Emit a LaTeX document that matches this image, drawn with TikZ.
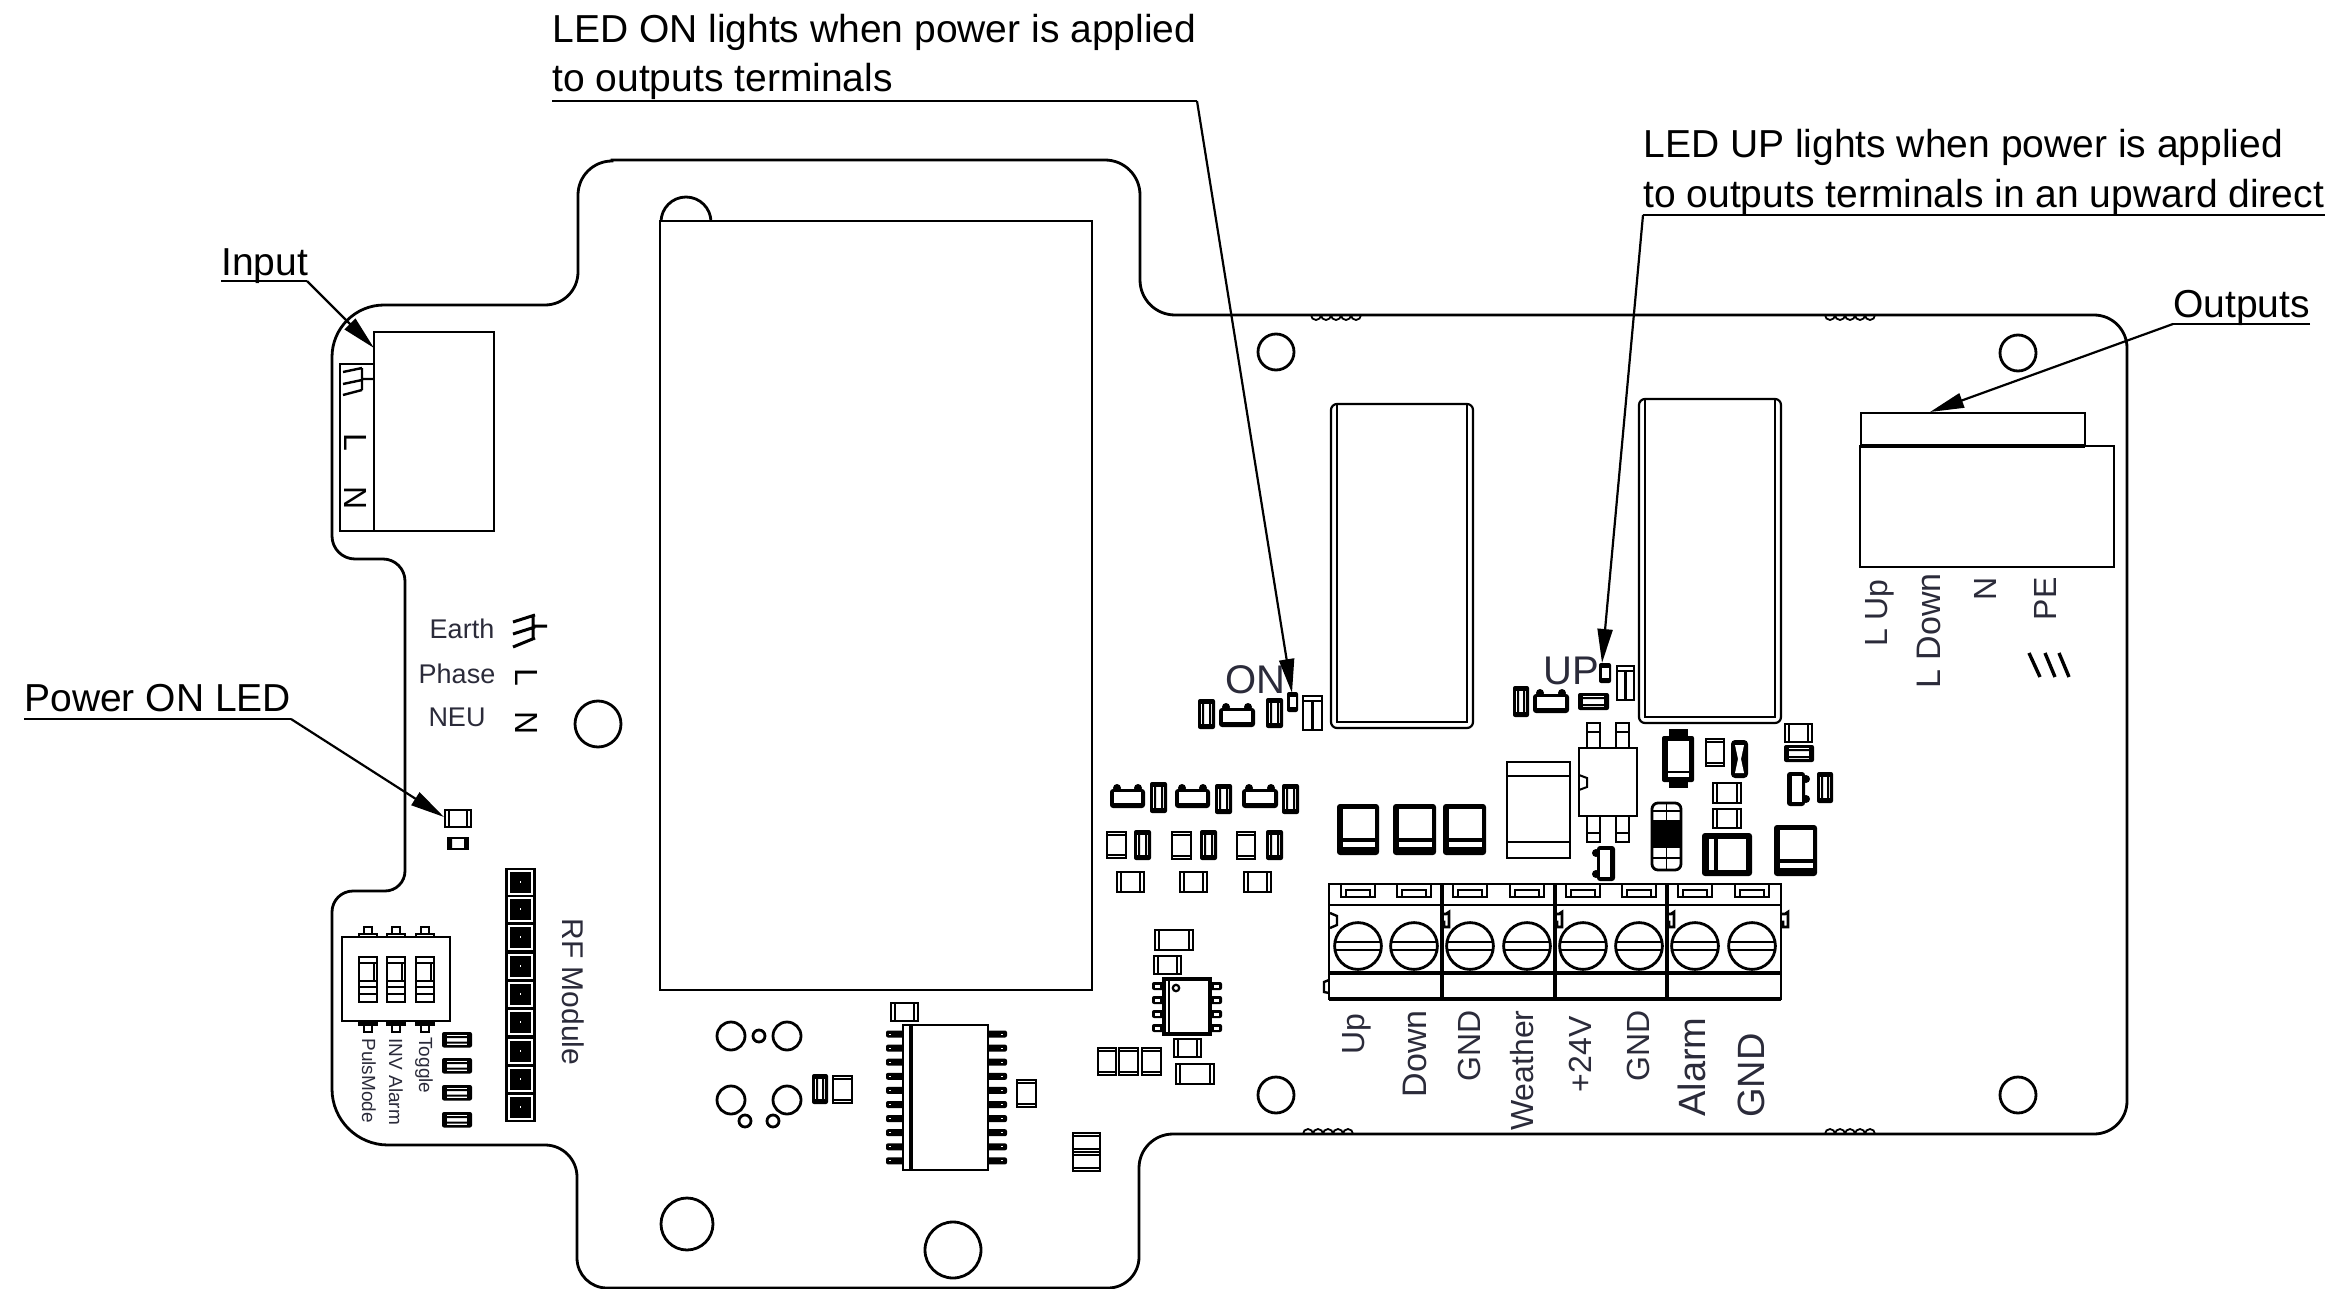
\documentclass[tikz,border=0pt]{standalone}
\usepackage{fontspec}
\setmainfont{Liberation Sans}
\usetikzlibrary{arrows.meta}
\definecolor{lab}{HTML}{2B2B3A}
\tikzset{
 brd/.style={line width=1.4pt,black},
 thin part/.style={line width=1.05pt,black},
 leader/.style={line width=1.1pt,black},
 tip/.style={line width=1.1pt,black,-{Triangle[length=17pt,width=7.5pt]}},
 call/.style={font=\fontsize{19.5}{19.5}\selectfont,anchor=base west,inner sep=0pt,black},
 lab16/.style={font=\fontsize{16}{16}\selectfont,text=lab,inner sep=0pt},
 lab17/.style={font=\fontsize{17}{17}\selectfont,text=lab,inner sep=0pt},
 lab19/.style={font=\fontsize{19}{19}\selectfont,text=lab,inner sep=0pt},
 lab12/.style={font=\fontsize{13.5}{13.5}\selectfont,text=lab,inner sep=0pt},
 lab95/.style={font=\fontsize{9.5}{9.5}\selectfont,text=lab,inner sep=0pt},
 sym/.style={font=\fontsize{16}{16}\selectfont,text=black,inner sep=0pt,rotate=-90},
}
% plain capacitor, vertical: end bands top and bottom
\newcommand{\capV}[4]{\draw[thin part] (#1,#2) rectangle (#3,#4);
 \draw[line width=0.8pt] (#1,{#2+3}) -- (#3,{#2+3}) (#1,{#4-3}) -- (#3,{#4-3});}
% plain capacitor, horizontal: end bands left and right
\newcommand{\capH}[4]{\draw[thin part] (#1,#2) rectangle (#3,#4);
 \draw[line width=0.8pt] ({#1+4},#2) -- ({#1+4},#4) ({#3-4},#2) -- ({#3-4},#4);}
% dark resistor, vertical
\newcommand{\darkV}[4]{\fill[black,rounded corners=1pt] (#1,#2) rectangle (#3,#4);
 \fill[white] ({#1+3},{#2+5}) rectangle ({#3-3},{#4-5});
 \fill[black] ({#1+4},{#2+5}) rectangle ({#1+6},{#4-5}) ({#3-6},{#2+5}) rectangle ({#3-4},{#4-5});}
% dark resistor, horizontal
\newcommand{\darkH}[4]{\fill[black,rounded corners=1pt] (#1,#2) rectangle (#3,#4);
 \fill[white] ({#1+5},{#2+3}) rectangle ({#3-5},{#4-3});
 \fill[black] ({#1+5},{#2+4}) rectangle ({#3-5},{#2+6}) ({#1+5},{#4-6}) rectangle ({#3-5},{#4-4});}
% diode with two bumps on top
\newcommand{\bumpT}[4]{\fill[black,rounded corners=1.5pt] (#1,{#2+5}) rectangle (#3,#4);
 \fill[black] ({#1+7},{#2+4}) circle[radius=2pt] ({#3-7},{#2+4}) circle[radius=2pt];
 \fill[white] ({#1+4},{#2+8}) rectangle ({#3-4},{#4-5});}
% diode with two bumps on the right
\newcommand{\bumpR}[4]{\fill[black,rounded corners=1.5pt] (#1,#2) rectangle ({#3-5},#4);
 \fill[black] ({#3-4},{#2+7}) circle[radius=2pt] ({#3-4},{#4-7}) circle[radius=2pt];
 \fill[white] ({#1+5},{#2+4}) rectangle ({#3-8},{#4-4});}
% diode with two bumps on the left
\newcommand{\bumpL}[4]{\fill[black,rounded corners=1.5pt] ({#1+5},#2) rectangle (#3,#4);
 \fill[black] ({#1+4},{#2+7}) circle[radius=2pt] ({#1+4},{#4-7}) circle[radius=2pt];
 \fill[white] ({#1+8},{#2+4}) rectangle ({#3-5},{#4-4});}
% power square with band near the bottom
\newcommand{\psq}[4]{\fill[black,rounded corners=1.5pt] (#1,#2) rectangle (#3,#4);
 \fill[white] ({#1+6},{#2+5}) rectangle ({#3-4},{#4-17});
 \fill[white] ({#1+6},{#4-13}) rectangle ({#3-4},{#4-8});}
% tall part with a T
\newcommand{\tallT}[4]{\draw[thin part] (#1,#2) rectangle (#3,#4);
 \draw[thin part] (#1,{#2+5}) -- (#3,{#2+5}) ({(#1+#3)/2},{#2+5}) -- ({(#1+#3)/2},#4);}
% small LED
\newcommand{\ledV}[4]{\fill[black,rounded corners=1pt] (#1,#2) rectangle (#3,#4);
 \fill[white] ({#1+2.5},{#2+5}) rectangle ({#3-2.5},{#4-5});}
% relay
\newcommand{\relay}[4]{\draw[line width=1.1pt,rounded corners=3pt] (#1,#2) rectangle (#3,#4);
 \draw[line width=1.1pt] ({#1+6},#2) -- ({#1+6},{#4-6}) -- ({#3-6},{#4-6}) -- ({#3-6},#2) -- cycle;}
\begin{document}
\begin{tikzpicture}[x=0.5pt,y=-0.5pt]
\useasboundingbox (0,0) rectangle (2340,1289);
\fill[white] (0,0) rectangle (2340,1289);

% ===== board outline =====
\draw[brd] (612,160) -- (1105,160) arc[start angle=90,end angle=0,radius=17.5pt]
 -- (1140,280) arc[start angle=180,end angle=270,radius=17.5pt]
 -- (2094,315) arc[start angle=90,end angle=0,radius=16.5pt]
 -- (2127,1101) arc[start angle=0,end angle=-90,radius=16.5pt]
 -- (1173,1134) arc[start angle=90,end angle=180,radius=17pt]
 -- (1139,1257) arc[start angle=0,end angle=-90,radius=15.5pt]
 -- (607,1288) arc[start angle=270,end angle=180,radius=15pt]
 -- (577,1177) arc[start angle=0,end angle=90,radius=16pt]
 -- (388,1145) arc[start angle=270,end angle=180,radius=28pt]
 -- (332,912) arc[start angle=180,end angle=90,radius=10.5pt]
 -- (385,891) arc[start angle=270,end angle=360,radius=10pt]
 -- (405,581) arc[start angle=0,end angle=90,radius=11pt]
 -- (355,559) arc[start angle=270,end angle=180,radius=11.5pt]
 -- (332,357) arc[start angle=180,end angle=90,radius=26pt]
 -- (545,305) arc[start angle=270,end angle=360,radius=16.5pt]
 -- (578,195) arc[start angle=180,end angle=90,radius=17pt] -- cycle;
% edge scallops
\foreach \i in {0,...,4}{
 \draw[line width=0.9pt] ({1311+10*\i},315) arc[start angle=180,end angle=360,radius=2.5pt];
 \draw[line width=0.9pt] ({1825+10*\i},315) arc[start angle=180,end angle=360,radius=2.5pt];
 \draw[line width=0.9pt] ({1303+10*\i},1134) arc[start angle=180,end angle=0,radius=2.5pt];
 \draw[line width=0.9pt] ({1825+10*\i},1134) arc[start angle=180,end angle=0,radius=2.5pt];
}

% ===== holes =====
\foreach \x/\y/\r in {1276/352/18,2018/353/18,598/724/23,1276/1095/18,2018/1095/18,687/1224/26,953/1250/28,
 731/1036/14,759/1036/6,787/1036/14,731/1100/14,787/1100/14,745/1121/6,773/1121/6}
 \draw[brd] (\x,\y) circle[radius=\r*0.5pt];

% ===== RF module cover =====
\draw[brd] (686,222) circle[radius=12.5pt];
\draw[brd,fill=white] (660,221) rectangle (1092,990);

% ===== input connector =====
\draw[brd] (340,364) rectangle (374,531);
\draw[brd,fill=white] (374,332) rectangle (494,531);
\draw[line width=1.2pt] (343,372) -- (362,368) (343,384) -- (362,380) (343,395) -- (362,390) (362,368) -- (362,390) (362,379) -- (373,379);
\node[sym] (stripL) at (356,442) {L};
\node[sym] (stripN) at (356,498) {N};

% ===== legend =====
\node[lab12] (earth) at (462,629) {Earth};
\node[lab12] (phase) at (457,674) {Phase};
\node[lab12] (neu) at (457,717) {NEU};
\draw[line width=1.5pt] (513,622) -- (535,615) (513,634) -- (535,627) (513,647) -- (535,638) (533,615) -- (533,640) (533,626) -- (547,626);
\node[sym] (legL) at (527,677) {L};
\node[sym] (legN) at (527,723) {N};

% ===== LEDs left =====
\draw[line width=1.3pt] (445,810) rectangle (471,827);
\draw[line width=0.8pt] (449,810) -- (449,827) (467,810) -- (467,827);
\draw[line width=1.2pt] (448,838) rectangle (468,849);
\fill[black] (448,838) rectangle (452,849) (464,838) rectangle (468,849);

% ===== DIP switch =====
\draw[brd] (342,937) rectangle (450,1021);
\foreach \x in {368,396,425}{
 \draw[line width=1pt] ({\x-9},937) -- ({\x-9},934) -- ({\x+9},934) -- ({\x+9},937);
 \draw[line width=1pt] ({\x-4},933) -- ({\x-4},927) -- ({\x+4},927) -- ({\x+4},933);
 \fill[black] ({\x-10},1021) rectangle ({\x+10},1026);
 \draw[line width=1pt] ({\x-4},1026) -- ({\x-4},1032) -- ({\x+4},1032) -- ({\x+4},1026);
 \draw[line width=1.3pt] ({\x-9},957) rectangle ({\x+9},1002);
 \draw[line width=1pt] ({\x-9},963) -- ({\x+9},963) ({\x-9},981) -- ({\x+9},981) ({\x-9},987) -- ({\x+9},987) ({\x-9},994) -- ({\x+9},994);
 \draw[line width=0.7pt] ({\x+6},963) -- ({\x+6},981);
}
\node[lab95,rotate=-90,anchor=base west] (puls) at (362,1038) {PulsMode};
\node[lab95,rotate=-90,anchor=base west] (inv) at (389,1038) {INV Alarm};
\node[lab95,rotate=-90,anchor=base west] (toggle) at (419,1037) {Toggle};
\foreach \y in {1032,1058,1085,1112} {\darkH{442}{\y}{472}{\y+15.5}}

% ===== pin header =====
\foreach \y in {882,909,937,966,994,1022,1051,1079,1107}{
 \fill[black] (505,{\y-14.5}) rectangle (536,{\y+14.5});
 \fill[white] (508,{\y-12.5}) rectangle (533,{\y+12.5});
 \fill[black] (510,{\y-10.5}) rectangle (531,{\y+10.5});
 \fill[white] (519.5,{\y-1}) rectangle (521,{\y+1});
}
\node[lab19,font=\fontsize{15}{15}\selectfont,rotate=-90,anchor=base west] (rf) at (562,918) {RF Module};

% ===== group near ON LED =====
\ledV{1287}{692}{1298}{712}
\tallT{1303}{696}{1322}{730}
\darkV{1198}{699}{1215}{729}
\bumpT{1219}{703}{1255}{727}
\darkV{1266}{698}{1283}{728}
\relay{1331}{404}{1473}{728}
\relay{1639}{399}{1781}{723}

% ===== small parts row =====
\bumpT{1110}{784}{1145}{808}
\darkV{1150}{782}{1167}{813}
\bumpT{1175}{784}{1210}{808}
\darkV{1215}{784}{1232}{814}
\bumpT{1242}{784}{1278}{808}
\darkV{1282}{784}{1299}{814}
\capV{1107}{832}{1126}{858}
\darkV{1134}{830}{1151}{860}
\capV{1172}{832}{1191}{859}
\darkV{1200}{830}{1217}{860}
\capV{1237}{832}{1255}{859}
\darkV{1266}{830}{1283}{860}
\capH{1117}{872}{1144}{892}
\capH{1180}{872}{1207}{892}
\capH{1244}{872}{1271}{892}
\psq{1337}{804}{1379}{855}
\psq{1393}{804}{1436}{855}
\psq{1443}{804}{1486}{855}

% ===== group near UP LED =====
\darkV{1513}{686}{1529}{717}
\bumpT{1533}{689}{1569}{713}
\darkH{1578}{693}{1609}{710}
\ledV{1599}{663}{1611}{683}
\tallT{1617}{666}{1634}{700}
% big capacitor
\draw[thin part] (1507,762) rectangle (1570,858);
\draw[thin part] (1507,776) -- (1570,776) (1507,842) -- (1570,842);
% regulator
\draw[brd,fill=white] (1579,748) rectangle (1637,816);
\draw[line width=1pt] (1579,775) -- (1587,778) -- (1587,787) -- (1579,790);
\foreach \x in {1587,1616}{
 \draw[line width=1.2pt] (\x,748) -- (\x,723) -- ({\x+13},723) -- ({\x+13},748) (\x,732) -- ({\x+13},732);
 \draw[line width=1.2pt] (\x,816) -- (\x,842) -- ({\x+13},842) -- ({\x+13},816) (\x,833) -- ({\x+13},833);
}
% diode
\fill[black] (1669,729) rectangle (1688,788);
\fill[black,rounded corners=1pt] (1662,736) rectangle (1694,782);
\fill[white] (1668,741) rectangle (1689,771);
\fill[white] (1668,773) rectangle (1689,777);
\capV{1706}{739}{1724}{766}
% fuse
\fill[black,rounded corners=2pt] (1731,740) rectangle (1748,778);
\fill[white] (1735,745) -- (1744,745) -- (1741,759) -- (1744,773) -- (1735,773) -- (1738,759) -- cycle;
\capH{1713}{783}{1741}{803}
\capH{1713}{809}{1741}{828}
% coil
\draw[line width=1.4pt,rounded corners=3pt] (1652,803) rectangle (1681,870);
\fill[black] (1652,820) rectangle (1681,848);
\draw[line width=0.9pt] (1653,811) -- (1680,811) (1653,858) -- (1680,858) (1666.5,803) -- (1666.5,820) (1666.5,848) -- (1666.5,870);
% square with vertical stripe
\fill[black,rounded corners=1.5pt] (1702,833) rectangle (1752,876);
\fill[white] (1709,839) rectangle (1714,870);
\fill[white] (1718,839) rectangle (1746,870);
\psq{1774}{825}{1817}{876}
\capH{1785}{724}{1812}{742}
\darkH{1784}{745}{1814}{762}
\bumpR{1787}{772}{1810}{806}
\darkV{1817}{772}{1833}{803}
\bumpL{1592}{846}{1615}{881}

% ===== terminal block =====
\draw[brd] (1329,884) rectangle (1781,999);
\draw[brd] (1329,905) -- (1781,905);
\draw[line width=2.2pt] (1329,973) -- (1781,973);
\draw[line width=2.2pt] (1329,999) -- (1781,999);
\foreach \x in {1442,1555,1667} \draw[line width=1.7pt] (\x,884) -- (\x,999);
\foreach \x in {1442,1555,1667,1781}
 \draw[line width=1.4pt] (\x,914) -- ({\x+4},914) -- ({\x+7},912) -- ({\x+7},927) -- ({\x+2},927) -- ({\x+2},922) -- (\x,922);
\draw[line width=1.2pt] (1330,913) -- (1337,916) -- (1337,925) -- (1330,928);
\draw[line width=1.2pt] (1329,980) -- (1324,982) -- (1324,992) -- (1329,993);
\foreach \x in {1358,1414,1470,1527,1583,1639,1695,1752}{
 \draw[brd] (\x,946) circle[radius=11.7pt];
 \draw[line width=1.2pt] ({\x-23},942) -- ({\x+23},942) ({\x-23},950) -- ({\x+23},950);
 \draw[line width=1.2pt] ({\x-17},884) -- ({\x-17},897) -- ({\x+17},897) -- ({\x+17},884);
 \draw[line width=1pt] ({\x-12},897) -- ({\x-12},890) -- ({\x+12},890) -- ({\x+12},897);
}
\node[lab16,rotate=90,anchor=base east] (tUp) at (1364,1013) {Up};
\node[lab17,rotate=90,anchor=base east] (tDown) at (1426,1010) {Down};
\node[lab16,rotate=90,anchor=base east] (tGnd1) at (1480,1010) {GND};
\node[lab16,rotate=90,anchor=base east] (tWea) at (1533,1010) {Weather};
\node[lab16,rotate=90,anchor=base east] (tV) at (1591,1016) {+24V};
\node[lab16,rotate=90,anchor=base east] (tGnd2) at (1649,1010) {GND};
\node[lab19,rotate=90,anchor=base east] (tAl) at (1705,1017) {Alarm};
\node[lab19,rotate=90,anchor=base east] (tGnd3) at (1764,1033) {GND};

% ===== output connector =====
\draw[brd] (1861,413) rectangle (2085,446);
\draw[brd] (1860,446) rectangle (2114,567);
\draw[line width=1.8pt] (1860,446) -- (2085,446);
\node[lab16,rotate=90,anchor=base east] (oUp) at (1887,579) {L Up};
\node[lab17,rotate=90,anchor=base east] (oDown) at (1940,573) {L Down};
\node[lab16,rotate=90,anchor=base east] (oN) at (1996,577) {N};
\node[lab16,rotate=90,anchor=base east] (oPE) at (2056,577) {PE};
\draw[line width=1.7pt] (2029,653) -- (2040,677) (2045,653) -- (2055,677) (2059,653) -- (2069,677);

% ===== SOIC 20 =====
\foreach \i in {0,...,9}{
 \fill[black,rounded corners=1pt] (886,{1030.5+14.1*\i}) rectangle (904,{1037.5+14.1*\i});
 \fill[black,rounded corners=1pt] (987,{1030.5+14.1*\i}) rectangle (1007,{1037.5+14.1*\i});
 \fill[white] (889,{1033.5+14.1*\i}) rectangle (891,{1034.5+14.1*\i});
 \fill[white] (1001,{1033.5+14.1*\i}) rectangle (1003,{1034.5+14.1*\i});
}
\draw[brd,fill=white] (903,1025) rectangle (988,1170);
\draw[line width=1.6pt] (911,1025) -- (911,1170);
\capH{891}{1003}{918}{1021}
\darkV{812}{1074}{828}{1104}
\capV{833}{1076}{852}{1103}
\capV{1017}{1080}{1036}{1107}
\capV{1073}{1133}{1100}{1152}
\capV{1073}{1152}{1100}{1171}

% ===== SOIC 8 =====
\foreach \y in {986,1000,1014,1028}{
 \fill[black,rounded corners=1pt] (1152,{\y-4}) rectangle (1165,{\y+4});
 \fill[black,rounded corners=1pt] (1209,{\y-4}) rectangle (1222,{\y+4});
 \fill[white] (1155,{\y-1.5}) rectangle (1160,{\y+1.5});
 \fill[white] (1214,{\y-1.5}) rectangle (1219,{\y+1.5});
}
\draw[line width=1.9pt,fill=white] (1164,979) rectangle (1210,1034);
\draw[line width=1.1pt] (1169,979) -- (1169,1034);
\draw[line width=1.1pt] (1176,988) circle[radius=1.6pt];
\capH{1155}{930}{1193}{950}
\capH{1154}{956}{1181}{974}
\capH{1174}{1039}{1201}{1057}
\capH{1176}{1064}{1214}{1084}
\capV{1098}{1048}{1116}{1075}
\capV{1119}{1048}{1138}{1075}
\capV{1142}{1048}{1161}{1075}

% ===== on-board LED labels =====
\node[lab19,font=\fontsize{20}{20}\selectfont,anchor=base west] (onlab) at (1225,693) {ON};
\node[lab19,font=\fontsize{20}{20}\selectfont,anchor=base west] (uplab) at (1543,684) {UP};

% ===== callouts =====
\node[call] (cOn1) at (552,42.5) {LED ON lights when power is applied};
\node[call] (cOn2) at (552,92) {to outputs terminals};
\coordinate (cOnA) at (552,101);
\coordinate (cOnB) at (1197,101);
\coordinate (cOnT) at (1292,693);
\draw[leader] (cOnA) -- (cOnB);
\draw[tip] (cOnB) -- (cOnT);

\node[call] (cUp1) at (1643,158) {LED UP lights when power is applied};
\node[call] (cUp2) at (1643,208) {to outputs terminals in an upward direct};
\coordinate (cUpA) at (1643,215);
\coordinate (cUpB) at (2325,215);
\coordinate (cUpT) at (1602,663);
\draw[leader] (cUpA) -- (cUpB);
\draw[tip] (cUpA) -- (cUpT);

\node[call] (cIn) at (221,276) {Input};
\coordinate (cInA) at (221,281);
\coordinate (cInB) at (307,281);
\coordinate (cInT) at (374,348);
\draw[leader] (cInA) -- (cInB);
\draw[tip] (cInB) -- (cInT);

\node[call] (cOut) at (2173,317) {Outputs};
\coordinate (cOutA) at (2310,324);
\coordinate (cOutB) at (2173,324);
\coordinate (cOutT) at (1930,412);
\draw[leader] (cOutA) -- (cOutB);
\draw[tip] (cOutB) -- (cOutT);

\node[call] (cPow) at (24,711) {Power ON LED};
\coordinate (cPowA) at (24,719);
\coordinate (cPowB) at (291,719);
\coordinate (cPowT) at (444,817);
\draw[leader] (cPowA) -- (cPowB);
\draw[tip] (cPowB) -- (cPowT);
\end{tikzpicture}
\end{document}
